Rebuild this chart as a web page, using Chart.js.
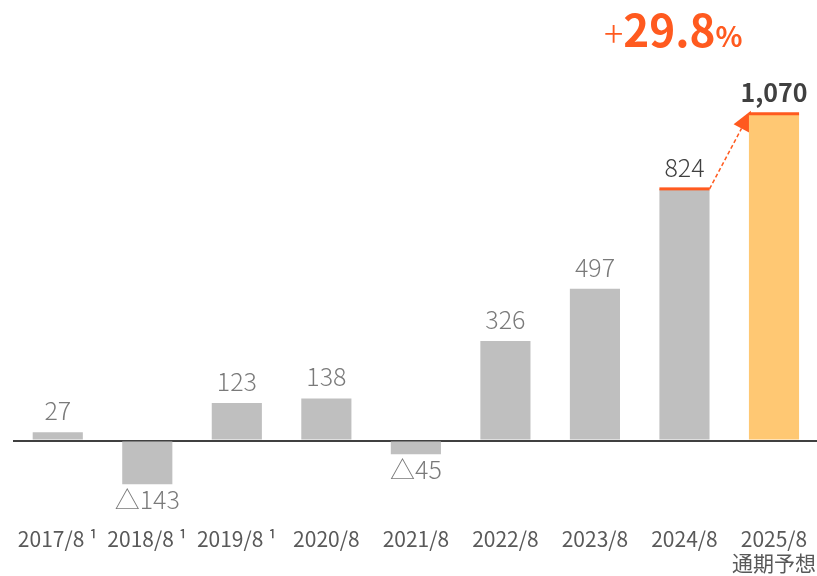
<!DOCTYPE html>
<html lang="ja">
<head>
<meta charset="utf-8">
<script src="https://cdn.jsdelivr.net/npm/chart.js@4.4.1/dist/chart.umd.min.js"></script>
<style>
  html, body { margin: 0; padding: 0; background: #fff; overflow: hidden; }
  .chart-box { width: 820px; height: 580px; }
</style>
</head>
<body>
<div class="chart-box"><canvas id="chart-bar"></canvas></div>
<script>
const FONT = "'Noto Sans CJK JP', 'Noto Sans', sans-serif";

const categories = [
  "2017/8 ¹", "2018/8 ¹", "2019/8 ¹", "2020/8", "2021/8",
  "2022/8", "2023/8", "2024/8", ["2025/8", "通期予想"],
];
const profits = [27, -143, 123, 138, -45, 326, 497, 824, 1070];
const barColors = [
  "#BFBFBF", "#BFBFBF", "#BFBFBF", "#BFBFBF", "#BFBFBF",
  "#BFBFBF", "#BFBFBF", "#BFBFBF", "#FFC873",
];
const labelColors = [
  "#7A7A7A", "#7A7A7A", "#7A7A7A", "#7A7A7A", "#7A7A7A",
  "#7A7A7A", "#7A7A7A", "#404040", "#404040",
];
const growthText = ["+", "29.8", "%"];

const ORANGE = "#FF5A1F";

function formatValue(v) {
  if (v < 0) return "△" + Math.abs(v);
  return v.toLocaleString("en-US");
}

const valueLabels = {
  id: "valueLabels",
  beforeDatasetsDraw(chart) {
    // dashed arrow 2024/8 -> 2025/8 (bar covers part of the head)
    const bars = chart.getDatasetMeta(0).data;
    const from = bars[7];
    const to = bars[8];
    const sx = from.x + from.width / 2;
    const sy = from.y;
    const tx = to.x - to.width / 2 + 2;
    const ty = to.y - 3;
    const len = Math.hypot(tx - sx, ty - sy);
    const dx = (tx - sx) / len;
    const dy = (ty - sy) / len;
    const bx = tx - dx * 20;
    const by = ty - dy * 20;
    const ctx = chart.ctx;
    ctx.save();
    ctx.strokeStyle = ORANGE;
    ctx.lineWidth = 1.5;
    ctx.setLineDash([4, 2.5]);
    ctx.beginPath();
    ctx.moveTo(sx, sy);
    ctx.lineTo(bx, by);
    ctx.stroke();
    ctx.setLineDash([]);
    ctx.fillStyle = ORANGE;
    ctx.beginPath();
    ctx.moveTo(tx, ty);
    ctx.lineTo(bx - dy * 9, by + dx * 9);
    ctx.lineTo(bx + dy * 9, by - dx * 9);
    ctx.closePath();
    ctx.fill();
    ctx.restore();
  },
  afterDatasetsDraw(chart) {
    const ctx = chart.ctx;
    const bars = chart.getDatasetMeta(0).data;
    ctx.save();
    ctx.textAlign = "center";
    bars.forEach((bar, i) => {
      const v = profits[i];
      const bold = i === profits.length - 1;
      ctx.font = (bold ? "bold " : "300 ") + "25px " + FONT;
      ctx.fillStyle = labelColors[i];
      if (v >= 0) {
        ctx.textBaseline = "alphabetic";
        ctx.fillText(formatValue(v), bar.x, bar.y - 12);
      } else {
        ctx.textBaseline = "top";
        ctx.fillText(formatValue(v), bar.x, bar.y + 3);
      }
    });

    // orange caps on the last two bars
    ctx.fillStyle = ORANGE;
    [7, 8].forEach((i) => {
      const bar = bars[i];
      ctx.fillRect(bar.x - bar.width / 2, bar.y - 1.5, bar.width, 3);
    });

    // growth rate
    const fonts = [
      "300 36px " + FONT,
      "bold 44px " + FONT,
      "bold 28px " + FONT,
    ];
    const widths = growthText.map((t, i) => {
      ctx.font = fonts[i];
      return ctx.measureText(t).width;
    });
    const total = widths.reduce((a, b) => a + b, 0);
    let x = (bars[7].x + bars[8].x) / 2 - 56 - total / 2;
    ctx.textAlign = "left";
    ctx.textBaseline = "alphabetic";
    ctx.fillStyle = ORANGE;
    growthText.forEach((t, i) => {
      ctx.font = fonts[i];
      ctx.fillText(t, x, 47);
      x += widths[i];
    });
    ctx.restore();
  },
};

new Chart(document.getElementById("chart-bar"), {
  type: "bar",
  data: {
    labels: categories,
    datasets: [
      {
        data: profits,
        backgroundColor: barColors,
        barPercentage: 0.56,
        categoryPercentage: 1,
      },
    ],
  },
  options: {
    responsive: true,
    maintainAspectRatio: false,
    animation: false,
    layout: { padding: { left: 13, right: 0, top: 60, bottom: 1 } },
    plugins: {
      legend: { display: false },
      tooltip: { enabled: false },
    },
    scales: {
      x: {
        grid: { display: false, drawTicks: false },
        border: { display: false },
        ticks: {
          color: "#595959",
          padding: 4,
          maxRotation: 0,
          autoSkip: false,
          font: { family: FONT, size: 21, lineHeight: 1.15 },
        },
      },
      y: {
        min: -269,
        max: 1246,
        border: { display: false },
        ticks: { display: false },
        afterBuildTicks: (axis) => {
          axis.ticks = [{ value: 0 }];
        },
        grid: {
          drawTicks: false,
          lineWidth: 2,
          color: (c) => (c.tick && c.tick.value === 0 ? "#404040" : "transparent"),
        },
      },
    },
  },
  plugins: [valueLabels],
});
</script>
</body>
</html>
